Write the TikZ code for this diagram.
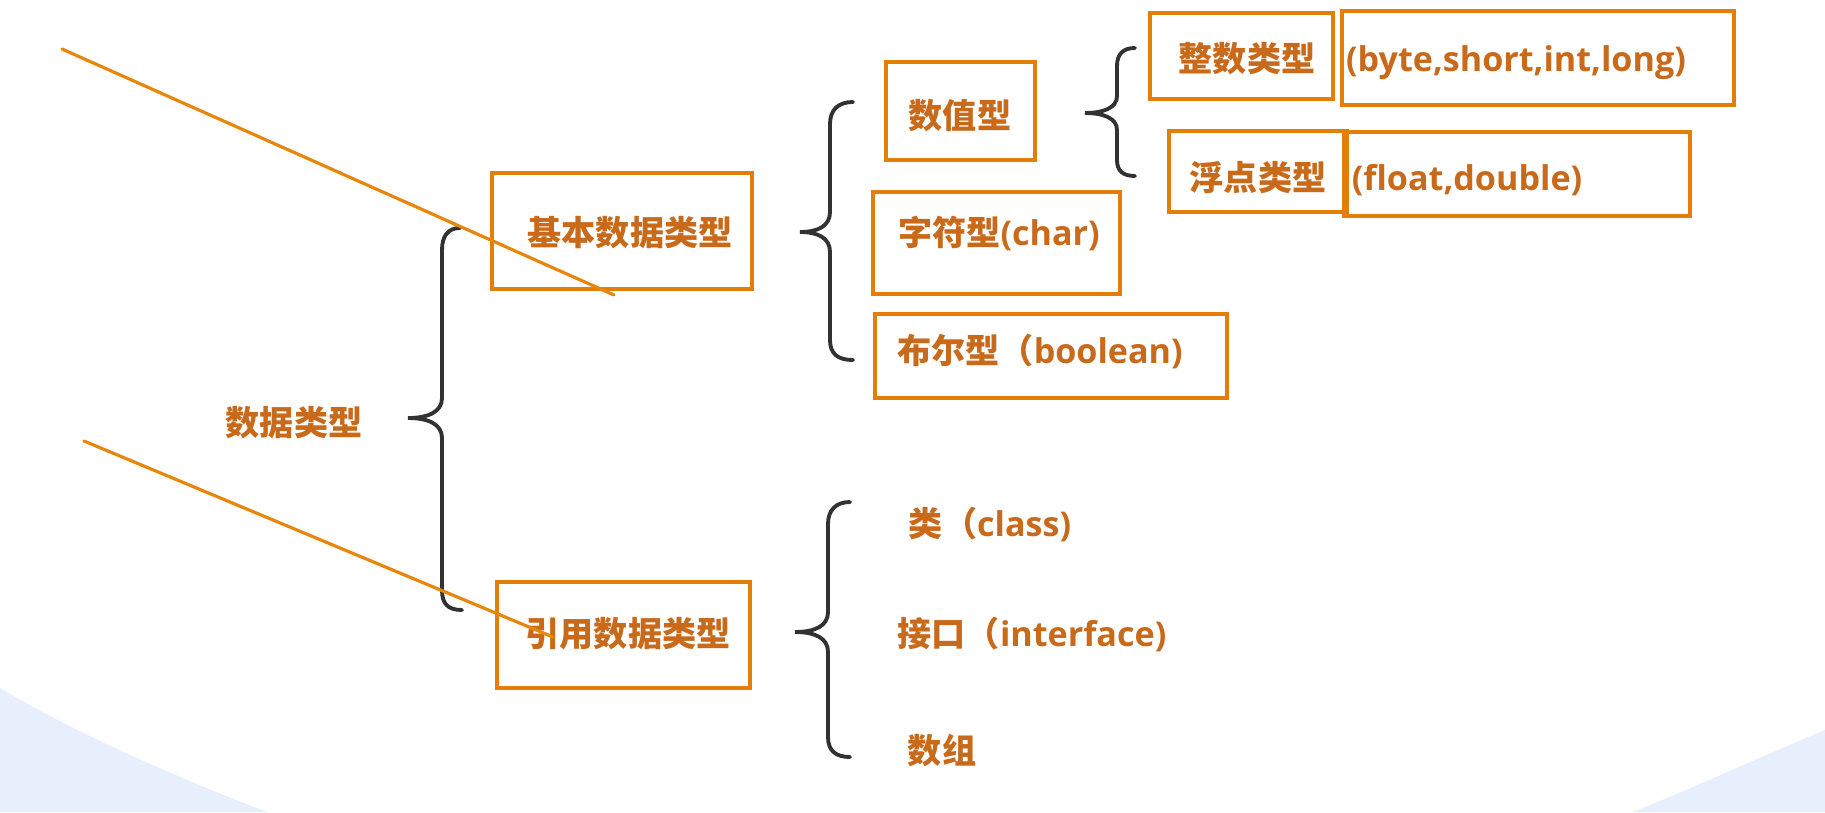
\documentclass[tikz,border=0pt]{standalone}
\usepackage{fontspec}
\newfontfamily\cjkf{Noto Sans CJK SC}
\newfontfamily\latf{Open Sans}
\definecolor{txtor}{RGB}{201,106,27}
\definecolor{boxor}{RGB}{228,126,8}
\definecolor{lineor}{RGB}{232,134,12}
\definecolor{brgray}{RGB}{50,50,50}
\definecolor{bgblue}{RGB}{231,238,252}
\tikzset{
  lbl/.style={inner sep=0pt, text=txtor, font=\latf\bfseries\fontsize{9.7pt}{11pt}\selectfont, text height=0.88em, text depth=0.12em, anchor=center},
  obox/.style={draw=boxor, line width=1pt, inner sep=0pt},
  cbr/.style={draw=brgray, line width=1.1pt, line cap=round},
  strokeline/.style={draw=lineor, line width=0.9pt, line cap=round}
}
\newcommand{\cj}[1]{{\cjkf\bfseries #1}}
\begin{document}
\begin{tikzpicture}[x=0.01cm,y=-0.01cm]
\useasboundingbox (0,0) rectangle (1825,812);
\fill[white] (0,0) rectangle (1825,812);
\fill[bgblue] (0,688) .. controls (70,730) and (170,775) .. (267,812) -- (0,812) -- cycle;
\fill[bgblue] (1633,812) .. controls (1700,785) and (1760,757) .. (1825,730) -- (1825,812) -- cycle;

% boxes
\node[obox, minimum width=2.60cm, minimum height=1.16cm] (bjb) at (622,231) {};
\node[obox, minimum width=2.53cm, minimum height=1.06cm] (byy) at (623.5,635) {};
\node[obox, minimum width=1.49cm, minimum height=0.98cm] (bsz) at (960.5,111) {};
\node[obox, minimum width=2.47cm, minimum height=1.02cm] (bzf) at (996.5,243) {};
\node[obox, minimum width=3.52cm, minimum height=0.84cm] (bbe) at (1051,356) {};
\node[obox, minimum width=1.83cm, minimum height=0.86cm] (bzs) at (1241.5,56) {};
\node[obox, minimum width=3.92cm, minimum height=0.94cm] (bby) at (1538,58) {};
\node[obox, minimum width=1.78cm, minimum height=0.81cm] (bfd) at (1258,171.5) {};
\node[obox, minimum width=3.46cm, minimum height=0.84cm] (bfl) at (1517,174) {};

% texts
\node[lbl] (tsj) at (294,422) {\cj{数据类型}};
\node[lbl] (tjb) at (630,232) {\cj{基本数据类型}};
\node[lbl] (tyy) at (628,633) {\cj{引用数据类型}};
\node[lbl] (tsz) at (960,115) {\cj{数值型}};
\node[lbl] (tzf) at (999,232) {\cj{字符型}(char)};
\node[lbl] (tbe) at (1040,350) {\cj{布尔型（}boolean)};
\node[lbl] (tzs) at (1247,58) {\cj{整数类型}};
\node[lbl] (tby) at (1516,58) {(byte,short,int,long)};
\node[lbl] (tfd) at (1258,177) {\cj{浮点类型}};
\node[lbl] (tfl) at (1467,177) {(float,double)};
\node[lbl] (tcl) at (990,523) {\cj{类（}class)};
\node[lbl] (tif) at (1032,633) {\cj{接口（}interface)};
\node[lbl] (tar) at (942,750) {\cj{数组}};

% braces
\draw[cbr] (460,228) .. controls (448,228) and (442,236) .. (442,250) -- (442,398) .. controls (442,412) and (428,418) .. (408,418) .. controls (428,418) and (442,424) .. (442,438) -- (442,590) .. controls (442,604) and (448,610) .. (462,610);
\draw[cbr] (853,102) .. controls (838,102) and (830,110) .. (830,124) -- (830,212) .. controls (830,226) and (818,232) .. (800,232) .. controls (818,232) and (830,238) .. (830,252) -- (830,340) .. controls (830,354) and (838,360) .. (853,360);
\draw[cbr] (1135,48) .. controls (1123,48) and (1117,54) .. (1117,66) -- (1117,96) .. controls (1117,108) and (1103,113) .. (1085,113) .. controls (1103,113) and (1117,118) .. (1117,130) -- (1117,160) .. controls (1117,171) and (1123,176) .. (1135,176);
\draw[cbr] (850,502) .. controls (836,502) and (828,510) .. (828,524) -- (828,612) .. controls (828,626) and (815,632) .. (795,632) .. controls (815,632) and (828,638) .. (828,652) -- (828,737) .. controls (828,751) and (836,757) .. (850,757);

% orange strokes
\coordinate (l1a) at (62,49);
\coordinate (l1b) at (614,295);
\coordinate (l2a) at (84,441);
\coordinate (l2b) at (553,637);
\draw[strokeline] (l1a) -- (l1b);
\draw[strokeline] (l2a) -- (l2b);
\end{tikzpicture}
\end{document}
